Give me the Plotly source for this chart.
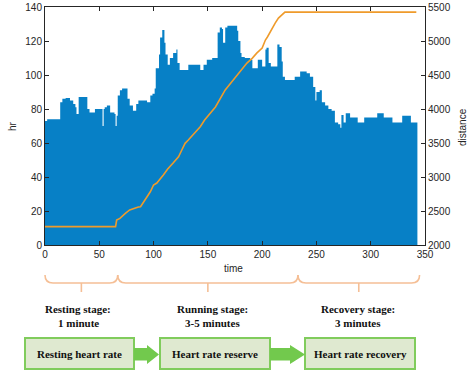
import plotly.graph_objects as go

W, H = 474, 371

# ---------------- data ----------------
time_hr = [0, 2, 14, 16, 19, 23, 26, 28, 29, 31, 38, 39, 41, 46, 52, 53, 54, 55, 57, 60,
           64, 65, 66, 67, 69, 71, 75, 76, 78, 81, 84, 86, 90, 94, 97, 99, 101, 102, 104, 105,
           106, 108, 110, 111, 113, 115, 118, 121, 122, 124, 132, 143, 146, 149, 154, 159, 161, 163, 164, 166,
           168, 174, 177, 178, 180, 181, 184, 189, 191, 195, 196, 199, 200, 203, 204, 206, 208, 212, 214, 216,
           218, 219, 221, 230, 235, 241, 244, 247, 249, 250, 253, 255, 258, 261, 264, 267, 270, 272, 273, 275,
           277, 281, 288, 294, 306, 312, 320, 329, 337, 343]
hr = [73, 74, 84, 86, 86.5, 85, 83, 81, 77, 87, 87, 80, 78, 80, 80, 70, 80, 81, 82, 78,
      77, 70, 76, 88, 91, 92, 92, 86, 82, 79, 83, 85, 85, 84, 88, 89, 92, 104, 104, 112,
      122, 126.5, 119, 112, 106, 110, 113, 115, 107, 103, 106, 103, 106, 109, 110, 125, 128, 127, 119, 128,
      129, 129, 126, 120, 113, 110.6, 110, 109, 104, 104, 109, 109, 105, 115, 116, 107, 105, 105, 118, 116.5,
      108, 99, 97, 99, 102, 101, 99, 93, 85, 90, 91, 84, 82, 80, 79, 72, 71, 69, 76.5, 72,
      77.5, 75, 72, 75, 77.5, 75, 72, 76, 72, 72]

time_dist = [0, 65, 66, 69, 74, 78, 86, 88, 94, 97, 100, 103, 109, 113, 118, 123, 126, 129, 132, 138,
             143, 147, 157, 166, 172, 180, 186, 191, 195, 200, 203, 205, 209, 212, 215, 218, 221, 342]
distance = [2270, 2270, 2367, 2392, 2466, 2515, 2560, 2563, 2710, 2783, 2882, 2911, 3029, 3117, 3205, 3298,
            3397, 3495, 3544, 3646, 3739, 3838, 4030, 4280, 4400, 4545, 4675, 4749, 4822, 4896, 5014, 5063,
            5190, 5263, 5337, 5381, 5425, 5425]

x_ticks = [0, 50, 100, 150, 200, 250, 300, 350]
hr_ticks = [0, 20, 40, 60, 80, 100, 120, 140]
dist_ticks = [2000, 2500, 3000, 3500, 4000, 4500, 5000, 5500]

stage_bounds = [0, 67, 233, 345]
stage_titles = ["Resting stage:", "Running stage:", "Recovery stage:"]
stage_durations = ["1 minute", "3-5 minutes", "3 minutes"]
box_labels = ["Resting heart rate", "Heart rate reserve", "Heart rate recovery"]

# ---------------- styles / layout helpers ----------------
BLUE = "#0780c6"
ORANGE = "#ef9b2b"
AXC = "#262626"
BRACE = "#f5bf96"
BOX_FILL = "#dfe9d0"
BOX_LINE = "#80cc5c"
ARROW = "#72c94d"
SANS = "Liberation Sans, Arial, sans-serif"
SERIF = "Liberation Serif, Times New Roman, serif"

PL, PR, PT, PB = 45, 425, 7, 245  # plot area in pixels
XMAX = 350


def px(x):
    return x / W


def py(y):
    return 1 - y / H


def tx(t):
    return PL + t * (PR - PL) / XMAX


fig = go.Figure()
fig.add_trace(go.Scatter(x=time_hr, y=hr, mode="lines", line=dict(width=0, shape="hv", color=BLUE),
                         fill="tozeroy", fillcolor=BLUE, hoverinfo="skip"))
fig.add_trace(go.Scatter(x=time_dist, y=distance, mode="lines", yaxis="y2",
                         line=dict(width=1.6, color=ORANGE)))

axis_common = dict(ticks="inside", ticklen=4, tickcolor=AXC, tickwidth=1, showline=True,
                   linecolor=AXC, linewidth=1, showgrid=False, zeroline=False,
                   tickfont=dict(family=SANS, size=10, color=AXC), automargin=False)

fig.update_layout(
    width=W, height=H, margin=dict(l=0, r=0, t=0, b=0),
    paper_bgcolor="white", plot_bgcolor="white", showlegend=False,
    xaxis=dict(domain=[px(PL), px(PR)], range=[0, XMAX], tickvals=x_ticks, mirror="ticks", **axis_common),
    yaxis=dict(domain=[py(PB), py(PT)], range=[0, 140], tickvals=hr_ticks, mirror=True, **axis_common),
    yaxis2=dict(overlaying="y", side="right", range=[2000, 5500], tickvals=dist_ticks, **axis_common),
)

ann = []
ann.append(dict(text="hr", x=px(13), y=py(126), textangle=-90))
ann.append(dict(text="time", x=px(233), y=py(268)))
ann.append(dict(text="distance", x=px(462), y=py(127), textangle=-90))
for a in ann:
    a.update(xref="paper", yref="paper", showarrow=False, xanchor="center", yanchor="middle",
             font=dict(family=SANS, size=10, color=AXC))

shapes = []
# braces
ytop, ymid, ytick = 275, 283, 292
for i in range(3):
    x0, x1 = tx(stage_bounds[i]), tx(stage_bounds[i + 1])
    xc = (x0 + x1) / 2
    r = 8
    path = (f"M {px(x0)},{py(ytop)} Q {px(x0)},{py(ymid)} {px(x0 + r)},{py(ymid)} "
            f"L {px(x1 - r)},{py(ymid)} Q {px(x1)},{py(ymid)} {px(x1)},{py(ytop)} "
            f"M {px(xc)},{py(ymid)} L {px(xc)},{py(ytick)}")
    shapes.append(dict(type="path", path=path, xref="paper", yref="paper",
                       line=dict(color=BRACE, width=1.6)))

text_centers = [78, 212, 358]
for i in range(3):
    ann.append(dict(text=f"<b>{stage_titles[i]}</b>", x=px(text_centers[i]), y=py(309),
                    xref="paper", yref="paper", showarrow=False, xanchor="center", yanchor="middle",
                    font=dict(family=SERIF, size=11, color="#111111")))
    ann.append(dict(text=f"<b>{stage_durations[i]}</b>", x=px(text_centers[i]), y=py(323),
                    xref="paper", yref="paper", showarrow=False, xanchor="center", yanchor="middle",
                    font=dict(family=SERIF, size=11, color="#111111")))

# boxes
boxes = [(25, 134), (160, 270), (305, 415)]
for (bx0, bx1), lab in zip(boxes, box_labels):
    shapes.append(dict(type="rect", xref="paper", yref="paper", x0=px(bx0), x1=px(bx1),
                       y0=py(369), y1=py(338), fillcolor=BOX_FILL, line=dict(color=BOX_LINE, width=2)))
    ann.append(dict(text=f"<b>{lab}</b>", x=px((bx0 + bx1) / 2), y=py(353.5),
                    xref="paper", yref="paper", showarrow=False, xanchor="center", yanchor="middle",
                    font=dict(family=SERIF, size=11, color="#111111")))

# arrows
for (a0, ah, atip) in [(134, 147, 159), (270, 290, 305)]:
    path = (f"M {px(a0)},{py(348)} L {px(ah)},{py(348)} L {px(ah)},{py(345)} L {px(atip)},{py(354.5)} "
            f"L {px(ah)},{py(364)} L {px(ah)},{py(360.5)} L {px(a0)},{py(360.5)} Z")
    shapes.append(dict(type="path", path=path, xref="paper", yref="paper",
                       fillcolor=ARROW, line=dict(width=0)))

fig.update_layout(annotations=ann, shapes=shapes)
fig.write_html("out.html", config={"displayModeBar": False},
               post_script="document.body.style.margin='0px';document.body.style.padding='0px';")
